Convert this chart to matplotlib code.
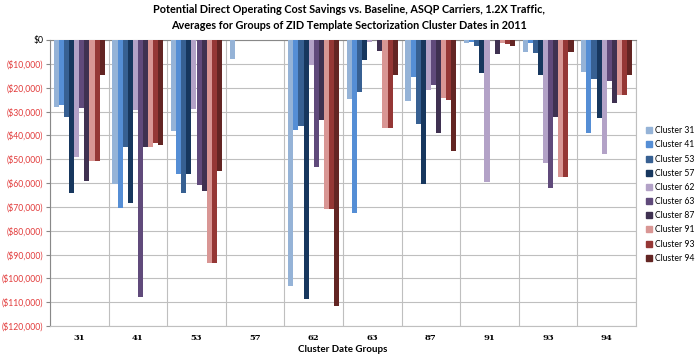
import matplotlib.pyplot as plt
import numpy as np
from matplotlib.patches import Patch

plt.rcParams['font.family'] = ['Lato', 'DejaVu Sans']

# cluster date groups (x categories)
groups = ['31', '41', '53', '57', '62', '63', '87', '91', '93', '94']
clusters = ['Cluster 31', 'Cluster 41', 'Cluster 53', 'Cluster 57', 'Cluster 62',
            'Cluster 63', 'Cluster 87', 'Cluster 91', 'Cluster 93', 'Cluster 94']
colors = ['#95B3D7', '#558ED5', '#376092', '#17375E', '#B3A2C7',
          '#604A7B', '#3F3151', '#D99694', '#953735', '#632523']

# savings per cluster, one value per group
c31 = [-28000, -60600, -38000, -8100, -103100, -24800, -25600, -1400, -5200, -13300]
c41 = [-27300, -70400, -56200, 0, -37800, -72700, -15700, -700, -1400, -38900]
c53 = [-32500, -44800, -64300, 0, -36100, -21700, -35400, -2400, -5600, -16500]
c57 = [-64400, -68600, -56200, 0, -108700, -8400, -60500, -14000, -14700, -32900]
c62 = [-49200, -29400, -29100, 0, -10500, -700, -21000, -59700, -51800, -48000]
c63 = [-28700, -108000, -61000, 0, -53400, 0, -18900, 0, -62000, -17100]
c87 = [-59200, -44800, -63400, 0, -33600, -4500, -39200, -6000, -32200, -26600]
c91 = [-50600, -45100, -93400, 0, -71000, -36800, -24200, -1400, -57600, -23100]
c93 = [-50600, -43100, -93400, 0, -71000, -36800, -25200, -1600, -57600, -23100]
c94 = [-14700, -44100, -54800, 0, -111600, -14700, -46400, -2400, -5000, -14700]
series = [c31, c41, c53, c57, c62, c63, c87, c91, c93, c94]

fig = plt.figure(figsize=(6.97, 3.6), dpi=100)
ax = fig.add_axes([50/697, 34/360, 586/697, 286/360])

x = np.arange(len(groups))
w = 0.087
for j, vals in enumerate(series):
    ax.bar(x + (j - 4.5) * w, vals, width=w, color=colors[j], zorder=3)

ax.set_xlim(-0.5, len(groups) - 0.5)
ax.set_ylim(-120000, 0)

yt = np.arange(0, -120001, -10000)
ax.set_yticks(yt)
ylabels = ['$0' if v == 0 else '(${:,})'.format(-v) for v in yt]
ax.set_yticklabels(ylabels, fontsize=6.2)
for lab, v in zip(ax.get_yticklabels(), yt):
    lab.set_color('black' if v == 0 else '#E23B3B')

ax.set_xticks(x)
ax.set_xticklabels(groups, fontsize=6, fontweight='bold', family='DejaVu Serif')
ax.set_xticks(np.arange(-0.5, len(groups), 1), minor=True)
ax.tick_params(axis='x', which='both', length=0, pad=6)
ax.tick_params(axis='y', length=3, color='#888888', pad=2)

ax.grid(axis='y', color='#BFBFBF', lw=0.8, zorder=0)
ax.grid(axis='x', which='minor', color='#BFBFBF', lw=0.8, zorder=0)
for s in ['left', 'bottom', 'right']:
    ax.spines[s].set_color('#BFBFBF')
ax.spines['left'].set_color('#888888')
ax.spines['top'].set_color('#888888')

ax.set_xlabel('Cluster Date Groups', fontsize=7, fontweight='bold', labelpad=2)
fig.suptitle('Potential Direct Operating Cost Savings vs. Baseline, ASQP Carriers, 1.2X Traffic,\n'
             'Averages for Groups of ZID Template Sectorization Cluster Dates in 2011',
             fontsize=7.8, fontweight='bold', y=0.99, linespacing=1.6)

handles = [Patch(color=c) for c in colors]
fig.legend(handles, clusters, loc='center left', bbox_to_anchor=(646/697, 1 - 194.5/360),
           frameon=False, fontsize=6.2, handlelength=0.7, handleheight=0.7,
           handletextpad=0.35, labelspacing=0.6, borderaxespad=0, borderpad=0)

fig.savefig('out.png', dpi=100)
